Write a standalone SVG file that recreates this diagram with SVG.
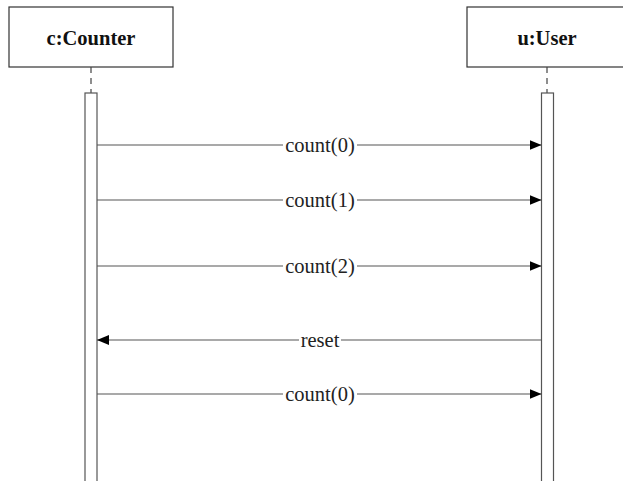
<svg xmlns="http://www.w3.org/2000/svg" width="623" height="481" viewBox="0 0 623 481">
<style>
.box{fill:#fff;stroke:#333;stroke-width:1.2}
.head{font-family:"Liberation Serif","Times New Roman",serif;font-weight:bold;font-size:20.5px;text-anchor:middle;fill:#111}
.life{stroke:#444;stroke-width:1.2;stroke-dasharray:6,5;fill:none}
.act{fill:#fff;stroke:#555;stroke-width:1.2}
.msg{stroke:#555;stroke-width:1.2;fill:none}
.lbl{font-family:"Liberation Serif","Times New Roman",serif;font-size:20.5px;text-anchor:middle;fill:#222}
.bg{fill:#fff}
</style>
<defs>
<marker id="ah" markerWidth="12" markerHeight="10" refX="12" refY="5" orient="auto" markerUnits="userSpaceOnUse">
<path d="M0,0 L12,5 L0,10 Z" fill="#000"/>
</marker>
</defs>
<rect width="623" height="481" fill="#fff"/>
<g id="counter">
<rect class="box" x="9" y="7" width="164" height="60"/>
<text class="head" x="91" y="45">c:Counter</text>
<line class="life" x1="91" y1="67" x2="91" y2="93"/>
<rect class="act" x="85" y="93" width="12" height="400"/>
</g>
<g id="user">
<rect class="box" x="467" y="7" width="160" height="60"/>
<text class="head" x="547" y="45">u:User</text>
<line class="life" x1="547" y1="67" x2="547" y2="93"/>
<rect class="act" x="541.5" y="93" width="12" height="400"/>
</g>
<g id="connectors">
<line class="msg" x1="97" y1="145" x2="541.5" y2="145" marker-end="url(#ah)"/>
<rect class="bg" x="283" y="134" width="74" height="22"/>
<text class="lbl" x="320" y="151.5">count(0)</text>
<line class="msg" x1="97" y1="200" x2="541.5" y2="200" marker-end="url(#ah)"/>
<rect class="bg" x="283" y="189" width="74" height="22"/>
<text class="lbl" x="320" y="206.5">count(1)</text>
<line class="msg" x1="97" y1="266" x2="541.5" y2="266" marker-end="url(#ah)"/>
<rect class="bg" x="283" y="255" width="74" height="22"/>
<text class="lbl" x="320" y="272.5">count(2)</text>
<line class="msg" x1="541.5" y1="340" x2="97" y2="340" marker-end="url(#ah)"/>
<rect class="bg" x="299" y="329" width="42" height="22"/>
<text class="lbl" x="320" y="346.5">reset</text>
<line class="msg" x1="97" y1="394" x2="541.5" y2="394" marker-end="url(#ah)"/>
<rect class="bg" x="283" y="383" width="74" height="22"/>
<text class="lbl" x="320" y="400.5">count(0)</text>
</g>
</svg>
